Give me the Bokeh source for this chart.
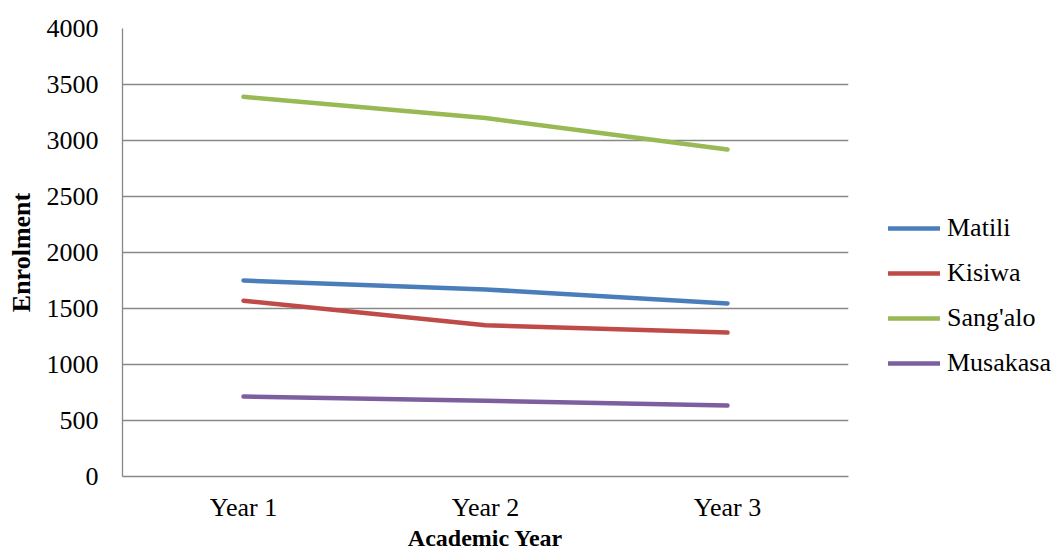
from bokeh.plotting import figure
from bokeh.models import Legend, LegendItem, FactorRange, Range1d
from bokeh.embed import file_html
from bokeh.resources import INLINE

years = ["Year 1", "Year 2", "Year 3"]
matili = [1750, 1670, 1545]
kisiwa = [1570, 1350, 1285]
sangalo = [3390, 3200, 2920]
musakasa = [714, 676, 634]
series_names = ["Matili", "Kisiwa", "Sang'alo", "Musakasa"]
colors = ["#4A7EBB", "#BE4B48", "#98B954", "#7D5FA0"]
y_ticks = list(range(0, 4001, 500))

FONT = "Liberation Serif"

p = figure(frame_width=726, frame_height=448, x_range=FactorRange(*years), y_range=Range1d(0, 4000),
           output_backend="svg", toolbar_location=None,
           min_border_left=122, min_border_top=28, min_border_right=10, min_border_bottom=70)
p.outline_line_color = None
p.background_fill_color = "white"

renderers = []
for name, vals, c in zip(series_names, [matili, kisiwa, sangalo, musakasa], colors):
    r = p.line(years, vals, line_color=c, line_width=4.5, line_cap="round", line_join="round")
    renderers.append((name, r))

p.xgrid.grid_line_color = None
p.ygrid.grid_line_color = "#888888"
p.ygrid.grid_line_width = 1.3
p.yaxis.ticker = y_ticks

for ax in (p.xaxis[0], p.yaxis[0]):
    ax.axis_line_color = "#888888"
    ax.axis_line_width = 1.3
    ax.major_tick_line_color = None
    ax.minor_tick_line_color = None
    ax.major_label_text_font = FONT
    ax.major_label_text_font_size = "26px"
    ax.major_label_text_color = "black"
    ax.axis_label_text_font = FONT
    ax.axis_label_text_font_style = "bold"
    ax.axis_label_text_color = "black"

p.yaxis.axis_label = "Enrolment"
p.yaxis.axis_label_text_font_size = "26px"
p.yaxis.major_label_standoff = 18
p.yaxis.axis_label_standoff = 8
p.xaxis.axis_label = "Academic Year"
p.xaxis.axis_label_text_font_size = "24px"
p.xaxis.major_label_standoff = 10
p.xaxis.axis_label_standoff = 0

legend = Legend(items=[LegendItem(label=n, renderers=[r]) for n, r in renderers],
                location=(40, 98), orientation="vertical",
                glyph_width=52, glyph_height=20, label_height=20, label_standoff=7, spacing=15,
                padding=0, margin=0, border_line_color=None, background_fill_alpha=0,
                label_text_font=FONT, label_text_font_size="26px", label_text_color="black")
p.add_layout(legend, "right")

open("out.html", "w").write(file_html(p, INLINE))
